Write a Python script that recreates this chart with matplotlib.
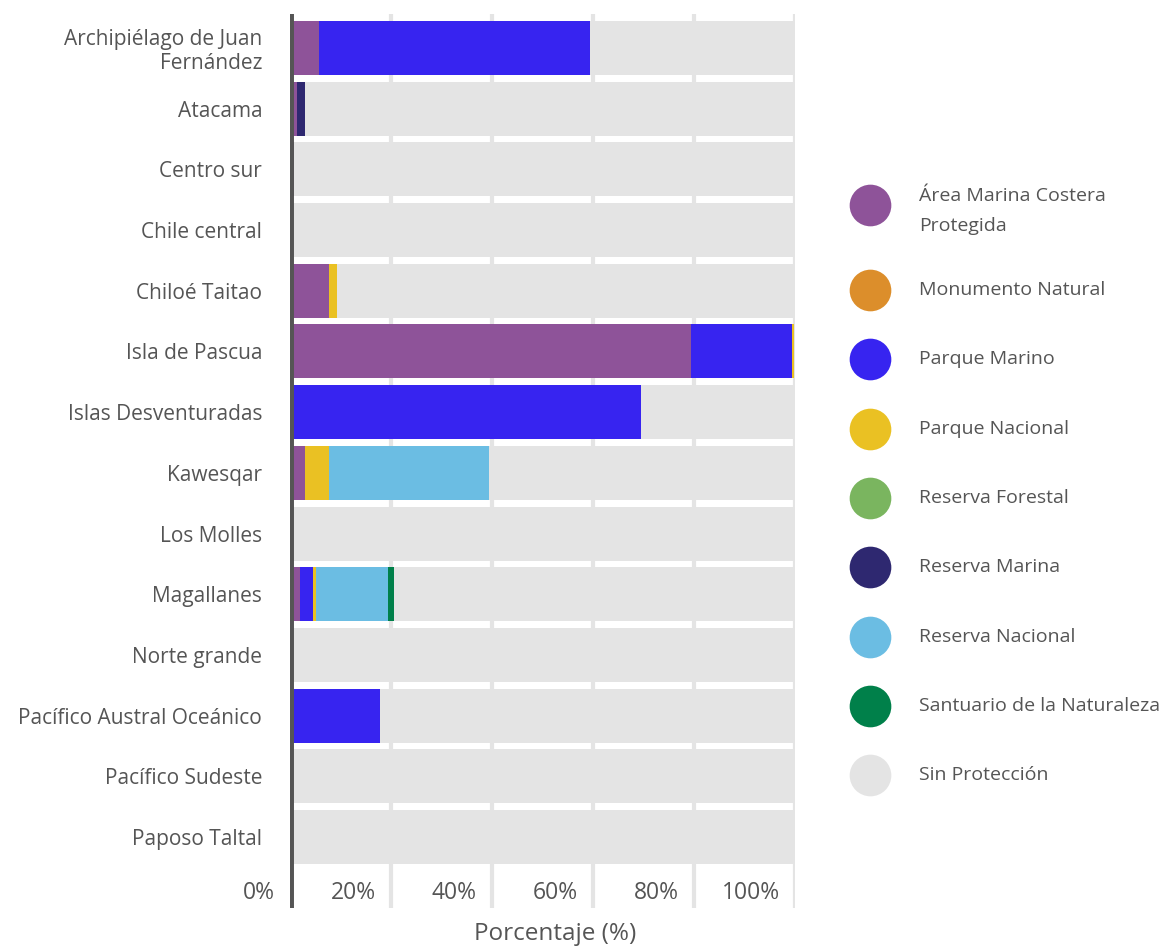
import matplotlib.pyplot as plt
import matplotlib.transforms as mtransforms
import numpy as np

regions = [
    "Archipiélago de Juan\nFernández", "Atacama", "Centro sur", "Chile central",
    "Chiloé Taitao", "Isla de Pascua", "Islas Desventuradas", "Kawesqar",
    "Los Molles", "Magallanes", "Norte grande", "Pacífico Austral Oceánico",
    "Pacífico Sudeste", "Paposo Taltal",
]

categories = [
    "Área Marina Costera\nProtegida", "Monumento Natural", "Parque Marino",
    "Parque Nacional", "Reserva Forestal", "Reserva Marina", "Reserva Nacional",
    "Santuario de la Naturaleza", "Sin Protección",
]
colors = ["#8E5399", "#DC8E2B", "#3724F0", "#EAC123", "#7AB55F",
          "#2E2870", "#6BBDE3", "#00804A", "#E4E4E4"]

# percentages per region, same order as regions
amcp = [5.7, 1.4, 0.7, 0, 7.7, 79.5, 0, 3.0, 0, 2.0, 0, 0, 0, 0]
monumento = [0] * 14
parque_marino = [53.7, 0, 0, 0, 0, 20.0, 69.5, 0, 0, 2.6, 0, 17.8, 0, 0]
parque_nacional = [0, 0, 0, 0, 1.6, 0.4, 0, 4.7, 0, 0.6, 0, 0, 0, 0]
reserva_forestal = [0] * 14
reserva_marina = [0, 1.6, 0, 0, 0, 0, 0, 0, 0, 0, 0, 0, 0, 0]
reserva_nacional = [0, 0, 0, 0, 0, 0, 0, 31.7, 0, 14.3, 0, 0, 0, 0]
santuario = [0, 0, 0, 0, 0, 0, 0, 0, 0, 1.0, 0, 0, 0, 0]

series = [amcp, monumento, parque_marino, parque_nacional, reserva_forestal,
          reserva_marina, reserva_nacional, santuario]
protected = np.sum(series, axis=0)
sin_proteccion = list(np.clip(100 - protected, 0, None))
series.append(sin_proteccion)

xticks = [0, 20, 40, 60, 80, 100]
xtick_labels = ["0%", "20%", "40%", "60%", "80%", "100%"]

plt.rcParams["font.family"] = ["Open Sans", "DejaVu Sans"]
TEXT = "#555555"

fig = plt.figure(figsize=(11.6, 9.46), dpi=100)
ax = fig.add_axes([290 / 1160, 1 - 908 / 946, 505 / 1160, (908 - 14) / 946])

y = np.arange(len(regions))
left = np.zeros(len(regions))
for vals, col in zip(series, colors):
    ax.barh(y, vals, left=left, height=0.89, color=col, linewidth=0, zorder=2)
    left += np.array(vals)

ax.set_xlim(0, 100)
ax.set_ylim(14.17, -0.56)
ax.set_xticks(xticks)
ax.xaxis.set_ticklabels([])
ax.tick_params(axis="x", length=0)
ax.grid(axis="x", color="#E4E4E4", linewidth=3, zorder=0)
ax.set_axisbelow(True)
for s in ax.spines.values():
    s.set_visible(False)
ax.axvline(0, color="#555555", linewidth=5, zorder=4)

ax.set_yticks(y)
ax.set_yticklabels(regions, fontsize=15, color=TEXT, linespacing=1.18)
ax.tick_params(axis="y", length=0, pad=20)

off = mtransforms.ScaledTranslation(-15 / 100, 0, fig.dpi_scale_trans)
trans = mtransforms.blended_transform_factory(ax.transData, ax.transAxes) + off
for v, lab in zip(xticks, xtick_labels):
    ax.text(v, 0.017, lab, transform=trans, ha="right", va="center",
            fontsize=16.5, color=TEXT)

fig.text(555 / 1160, 1 - 934 / 946, "Porcentaje (%)", ha="center", va="center",
         fontsize=17.5, color=TEXT)

# legend
leg = fig.add_axes([0, 0, 1, 1], facecolor="none")
leg.set_xlim(0, 1160)
leg.set_ylim(946, 0)
leg.axis("off")
leg_y = [205, 290, 359, 429, 498, 567, 637, 706, 775]
for i, (yy, lab, col) in enumerate(zip(leg_y, categories, colors)):
    leg.scatter([870], [yy], s=900, color=col, linewidths=0)
    ty = yy + 6 if i == 0 else yy
    leg.text(919, ty, lab, ha="left", va="center", fontsize=14, color=TEXT,
             linespacing=1.8)

fig.savefig("out.png", dpi=100)
